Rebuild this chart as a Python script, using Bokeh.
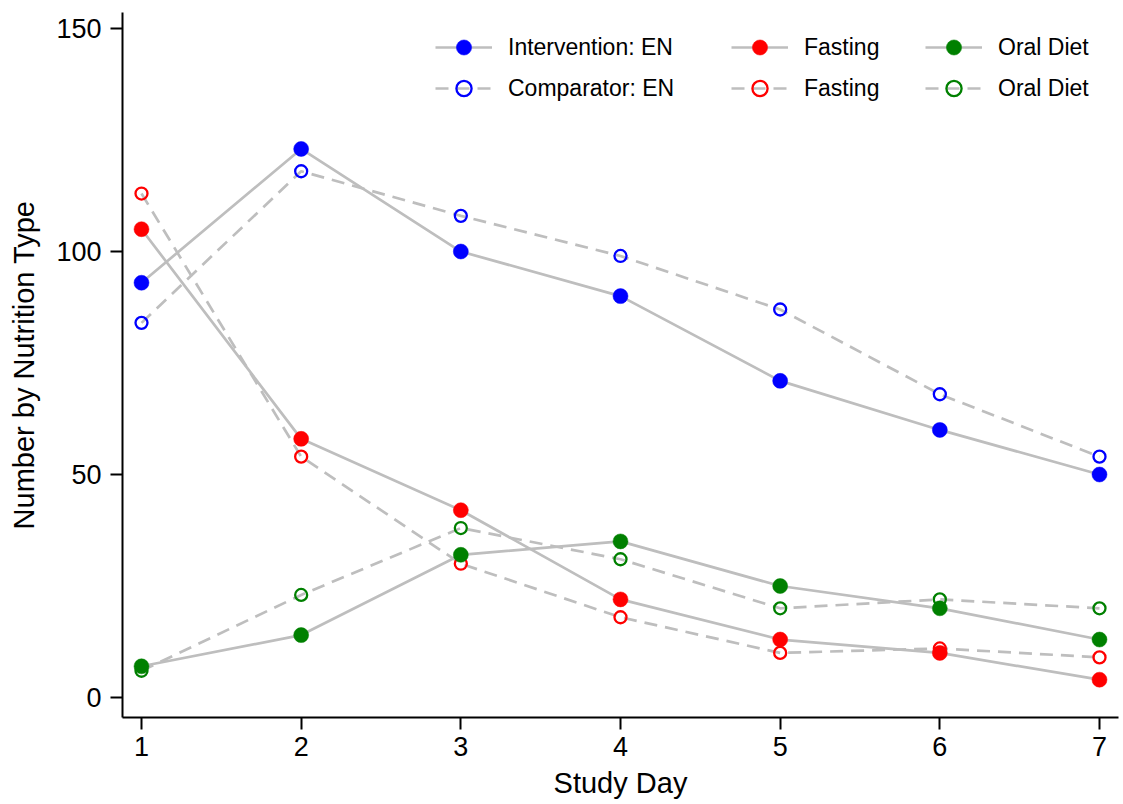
from bokeh.plotting import figure
from bokeh.models import Legend, LegendItem, FixedTicker, Range1d
from bokeh.embed import file_html
from bokeh.resources import INLINE

days = [1, 2, 3, 4, 5, 6, 7]
int_en = [93, 123, 100, 90, 71, 60, 50]
comp_en = [84, 118, 108, 99, 87, 68, 54]
int_fast = [105, 58, 42, 22, 13, 10, 4]
comp_fast = [113, 54, 30, 18, 10, 11, 9]
int_oral = [7, 14, 32, 35, 25, 20, 13]
comp_oral = [6, 23, 38, 31, 20, 22, 20]
y_ticks = [0, 50, 100, 150]

FONT = "Liberation Sans"
GRAY = "#BEBEBE"
BLUE = "#0000FF"
RED = "#FF0000"
GREEN = "#008000"

p = figure(width=1123, height=804,
           x_range=Range1d(0.881, 7.119), y_range=Range1d(-4.48, 153.59),
           output_backend="svg", toolbar_location=None,
           min_border_left=122, min_border_right=5,
           min_border_top=12, min_border_bottom=87)
p.outline_line_color = None
p.xgrid.visible = False
p.ygrid.visible = False
p.background_fill_color = "white"

series = [
    ("int_en", int_en, BLUE, False),
    ("comp_en", comp_en, BLUE, True),
    ("int_fast", int_fast, RED, False),
    ("comp_fast", comp_fast, RED, True),
    ("int_oral", int_oral, GREEN, False),
    ("comp_oral", comp_oral, GREEN, True),
]

lines = {}
for name, vals, col, dashed in series:
    lines[name] = p.line(days, vals, line_color=GRAY, line_width=2.7,
                         line_dash="13 8" if dashed else "solid")

marks = {}
for name, vals, col, dashed in series:
    if dashed:
        marks[name] = p.scatter(days, vals, marker="circle", size=12,
                                fill_color="white", fill_alpha=0,
                                line_color=col, line_width=2.3)
    else:
        marks[name] = p.scatter(days, vals, marker="circle", size=15,
                                fill_color=col, line_color=col, line_width=0.5)

for ax in (p.xaxis[0], p.yaxis[0]):
    ax.axis_line_width = 2
    ax.axis_line_color = "black"
    ax.major_tick_line_width = 2
    ax.major_tick_line_color = "black"
    ax.major_tick_out = 12
    ax.major_tick_in = 0
    ax.minor_tick_line_color = None
    ax.major_label_text_font = FONT
    ax.major_label_text_font_size = "27px"
    ax.major_label_text_color = "black"
    ax.axis_label_text_font = FONT
    ax.axis_label_text_font_size = "29px"
    ax.axis_label_text_font_style = "normal"
    ax.axis_label_text_color = "black"

p.xaxis.ticker = FixedTicker(ticks=days)
p.yaxis.ticker = FixedTicker(ticks=y_ticks)
p.xaxis.axis_label = "Study Day"
p.yaxis.axis_label = "Number by Nutrition Type"
p.xaxis.major_label_standoff = 7
p.yaxis.major_label_standoff = 9
p.xaxis.axis_label_standoff = 8
p.yaxis.axis_label_standoff = 13

cols = [
    (313, [("Intervention: EN", "int_en"), ("Comparator: EN", "comp_en")]),
    (609, [("Fasting", "int_fast"), ("Fasting", "comp_fast")]),
    (803, [("Oral Diet", "int_oral"), ("Oral Diet", "comp_oral")]),
]
for xoff, items in cols:
    leg = Legend(
        items=[LegendItem(label=lab, renderers=[lines[k], marks[k]]) for lab, k in items],
        location=(xoff, 610),
        orientation="vertical",
        glyph_width=57, glyph_height=38, label_height=28,
        label_standoff=16, spacing=3, padding=0, margin=0,
        border_line_color=None, background_fill_alpha=0,
        label_text_font=FONT, label_text_font_size="23px",
        label_text_color="black",
    )
    p.add_layout(leg)

open("out.html", "w").write(file_html(p, INLINE))
